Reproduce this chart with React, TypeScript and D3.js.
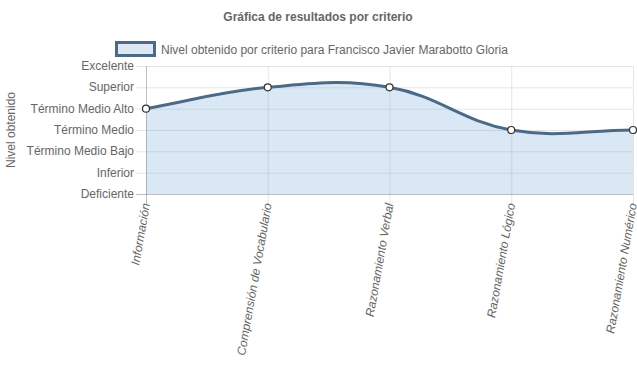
import React from "react";
import * as d3 from "d3";

const categories = ["Información", "Comprensión de Vocabulario", "Razonamiento Verbal", "Razonamiento Lógico", "Razonamiento Numérico"];
const levels = ["Deficiente", "Inferior", "Término Medio Bajo", "Término Medio", "Término Medio Alto", "Superior", "Excelente"];
const values = [4, 5, 5, 3, 3];

const W = 637, H = 389;
const left = 146, right = 633, top = 66, bottom = 194;
const lineColor = "#4b6a88";
const fillColor = "rgba(100,160,215,0.24)";
const font = "'Liberation Sans', Arial, Helvetica, sans-serif";

function splinePath(pts: [number, number][], t: number, close?: number) {
  const cps = pts.map((cur, i) => {
    const prev = pts[i - 1] || cur;
    const next = pts[i + 1] || cur;
    const d01 = Math.hypot(cur[0] - prev[0], cur[1] - prev[1]);
    const d12 = Math.hypot(next[0] - cur[0], next[1] - cur[1]);
    let s01 = d01 / (d01 + d12), s12 = d12 / (d01 + d12);
    if (isNaN(s01)) s01 = 0;
    if (isNaN(s12)) s12 = 0;
    const fa = t * s01, fb = t * s12;
    return {
      p: [cur[0] - fa * (next[0] - prev[0]), cur[1] - fa * (next[1] - prev[1])],
      n: [cur[0] + fb * (next[0] - prev[0]), cur[1] + fb * (next[1] - prev[1])],
    };
  });
  const p = d3.path();
  p.moveTo(pts[0][0], pts[0][1]);
  for (let i = 1; i < pts.length; i++) {
    p.bezierCurveTo(cps[i - 1].n[0], cps[i - 1].n[1], cps[i].p[0], cps[i].p[1], pts[i][0], pts[i][1]);
  }
  if (close !== undefined) {
    p.lineTo(pts[pts.length - 1][0], close);
    p.lineTo(pts[0][0], close);
    p.closePath();
  }
  return p.toString();
}

export default function App() {
  const x = d3.scalePoint<string>().domain(categories).range([left, right]);
  const y = d3.scaleLinear().domain([0, levels.length - 1]).range([bottom, top]);
  const pts: [number, number][] = values.map((v, i) => [x(categories[i])!, y(v)]);

  return (
    <svg width={W} height={H} style={{ position: "absolute", left: 0, top: 0 }} fontFamily={font}>
      <text x={318} y={21} textAnchor="middle" fontSize={12} fontWeight="bold" fill="#666">
        Gráfica de resultados por criterio
      </text>
      <rect x={116.5} y={42.5} width={38} height={13} fill="#dce9f5" stroke={lineColor} strokeWidth={3} />
      <text x={161} y={53.5} fontSize={12} fill="#666">
        Nivel obtenido por criterio para Francisco Javier Marabotto Gloria
      </text>
      {levels.map((l, i) => (
        <g key={l}>
          <line x1={136} x2={right} y1={y(i) + 0.5} y2={y(i) + 0.5} stroke={i === 0 ? "rgba(0,0,0,0.25)" : "rgba(0,0,0,0.1)"} />
          <text x={134} y={y(i) + 4} textAnchor="end" fontSize={12} fill="#666">{l}</text>
        </g>
      ))}
      {categories.map((c, i) => (
        <line key={c} x1={x(c)! + 0.5} x2={x(c)! + 0.5} y1={top} y2={bottom + 10} stroke={i === 0 ? "rgba(0,0,0,0.25)" : "rgba(0,0,0,0.1)"} />
      ))}
      <text transform={`translate(15,${(top + bottom) / 2}) rotate(-90)`} textAnchor="middle" fontSize={12} fill="#666">
        Nivel obtenido
      </text>
      <path d={splinePath(pts, 0.4, bottom)} fill={fillColor} stroke="none" />
      <path d={splinePath(pts, 0.4)} fill="none" stroke={lineColor} strokeWidth={3} />
      {pts.map((p, i) => (
        <circle key={i} cx={p[0]} cy={p[1]} r={3.5} fill="#fff" stroke="#333" strokeWidth={1.2} />
      ))}
      {categories.map((c) => (
        <text key={c} transform={`translate(${x(c)! + 4},204) rotate(-80)`} textAnchor="end" fontSize={12} fontStyle="italic" fill="#666">
          {c}
        </text>
      ))}
    </svg>
  );
}
